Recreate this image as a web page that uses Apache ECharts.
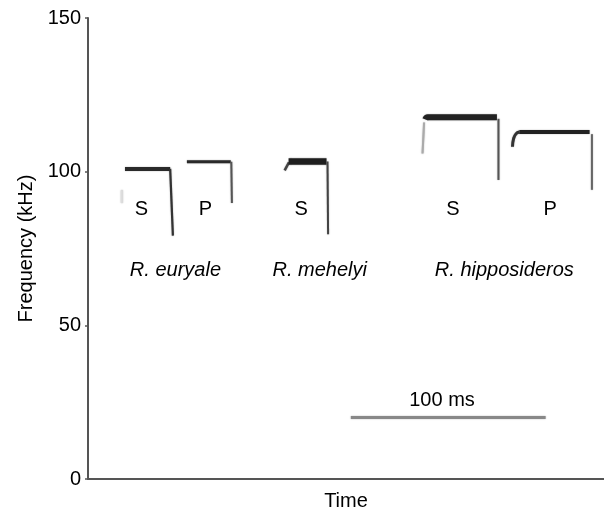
<!DOCTYPE html>
<html><head><meta charset="utf-8">
<script src="https://cdn.jsdelivr.net/npm/echarts@6/dist/echarts.min.js"></script>
<style>html,body{margin:0;padding:0;background:#fff}#c{width:604px;height:516px}</style>
</head><body><div id="c"></div>
<script>
// y ticks
var yTicks = [0, 50, 100, 150];
// call segments: [time ms, frequency kHz]
var euryaleS_top = [[19, 100.9], [42.2, 100.9]];
var euryaleS_drop = [[42.2, 100.9], [43.6, 79.2]];
var euryaleS_faint = [[17.4, 94], [17.4, 89.8]];
var euryaleP_top = [[50.8, 103.2], [73.3, 103.2]];
var euryaleP_drop = [[73.6, 103.2], [73.9, 89.8]];
var mehelyiS_hook = [[101, 100.4], [103.2, 103.0]];
var mehelyiS_top = [[103, 103.3], [122.5, 103.3]];
var mehelyiS_drop = [[123, 103.3], [123.3, 79.6]];
var hippoS_top = [[173.2, 117.0], [174.5, 117.7], [210, 117.7]];
var hippoS_left = [[172.6, 116.0], [172.3, 112], [171.8, 105.9]];
var hippoS_drop = [[210.8, 117.2], [210.8, 97.3]];
var hippoP_hook = [[218, 108.1], [218.6, 110.8], [219.8, 112.3], [221.5, 112.9]];
var hippoP_top = [[221.5, 112.9], [257.6, 112.9]];
var hippoP_drop = [[258.8, 112.2], [258.8, 94.1]];
var scaleBar = [[135, 20], [235, 20]];
// text labels
var callLabels = [['S', 27.4, 87.6], ['P', 60.3, 87.6], ['S', 109.5, 87.6], ['S', 187.4, 87.6], ['P', 237.4, 87.6]];
var speciesLabels = [['R. euryale', 44.9, 68], ['R. mehelyi', 119, 68], ['R. hipposideros', 213.8, 68]];
var scaleLabel = [['100 ms', 181.8, 25.4]];

var FONT = 'Liberation Sans, Arial, Helvetica, sans-serif';

function seg(data, w, color, smooth) {
  return {type: 'line', data: data, symbol: 'none', silent: true, animation: false, smooth: !!smooth,
    lineStyle: {width: w, color: color, cap: 'butt', join: 'round', shadowColor: 'rgba(0,0,0,0.35)', shadowBlur: 1.5}};
}
function texts(arr, extra) {
  return {type: 'scatter', symbolSize: 0, silent: true, animation: false,
    itemStyle: {opacity: 1},
    data: arr.map(function (d) { return {name: d[0], value: [d[1], d[2]]}; }),
    label: Object.assign({show: true, position: 'inside', formatter: '{b}', color: '#000',
      textBorderWidth: 0, fontSize: 20, fontFamily: FONT}, extra || {})};
}

var chart = echarts.init(document.getElementById('c'), null, {renderer: 'canvas'});
chart.setOption({
  backgroundColor: '#fff',
  animation: false,
  grid: {left: 88, top: 18, width: 516, height: 466},
  xAxis: {type: 'value', min: 0, max: 265, name: 'Time', nameLocation: 'middle', nameGap: 12,
    nameTextStyle: {fontSize: 20, color: '#000', fontFamily: FONT},
    axisLine: {show: true, lineStyle: {color: '#555', width: 2}},
    axisTick: {show: false}, axisLabel: {show: false}, splitLine: {show: false}},
  yAxis: {type: 'value', min: 0, max: 150, interval: 50, name: 'Frequency (kHz)', nameLocation: 'middle', nameGap: 52,
    nameTextStyle: {fontSize: 20, color: '#000', fontFamily: FONT},
    axisLine: {show: true, lineStyle: {color: '#555', width: 2}},
    axisTick: {show: true, length: 3, lineStyle: {color: '#555', width: 1.5}},
    axisLabel: {show: true, fontSize: 20, color: '#000', fontFamily: FONT, margin: 7,
      formatter: function (v) { return yTicks.indexOf(v) >= 0 ? String(v) : ''; }},
    splitLine: {show: false}},
  series: [
    seg(euryaleS_faint, 2, '#ddd'),
    seg(euryaleS_top, 4, '#2a2a2a'),
    seg(euryaleS_drop, 2.2, '#333'),
    seg(euryaleP_top, 3, '#2a2a2a'),
    seg(euryaleP_drop, 2, '#555'),
    seg(mehelyiS_hook, 2.5, '#444'),
    seg(mehelyiS_top, 6.5, '#1e1e1e'),
    seg(mehelyiS_drop, 2, '#444'),
    seg(hippoS_top, 6, '#222', true),
    seg(hippoS_left, 2, '#aaa'),
    seg(hippoS_drop, 2, '#555'),
    seg(hippoP_hook, 3, '#333', true),
    seg(hippoP_top, 4, '#222'),
    seg(hippoP_drop, 2, '#666'),
    seg(scaleBar, 3, '#888'),
    texts(callLabels),
    texts(speciesLabels, {fontStyle: 'italic'}),
    texts(scaleLabel)
  ]
});
</script></body></html>
